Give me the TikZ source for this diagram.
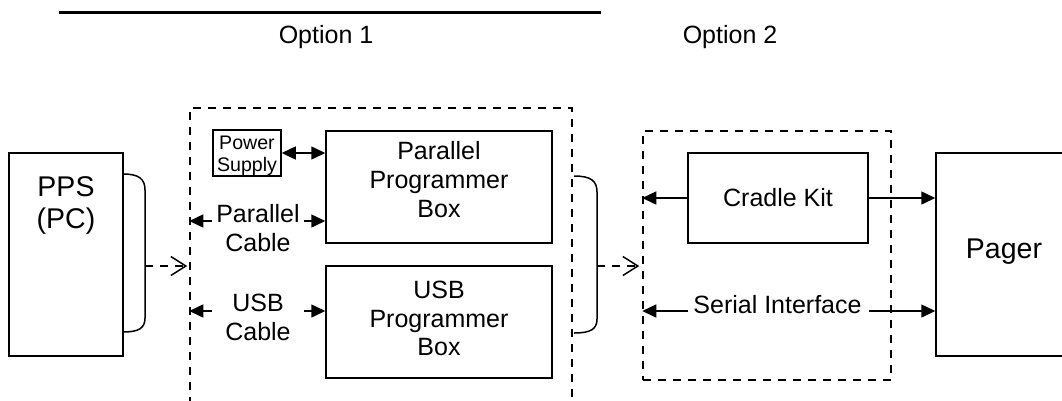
\documentclass[tikz,border=0pt]{standalone}
\usepackage{fontspec}
\setmainfont{Liberation Sans}
\usetikzlibrary{arrows.meta}
\begin{document}
\begin{tikzpicture}[x=1pt,y=-1pt,
  box/.style={draw,line width=1.5pt,rectangle,inner sep=0pt},
  dbox/.style={draw,line width=1.5pt,rectangle,inner sep=0pt,dash pattern=on 8pt off 7pt},
  txt/.style={inner sep=0pt,anchor=north,align=center,font=\fontsize{25}{29}\selectfont},
  bigtxt/.style={inner sep=0pt,anchor=north,align=center,font=\fontsize{28.5}{32}\selectfont},
  smalltxt/.style={inner sep=0pt,anchor=north,align=center,font=\fontsize{19.6}{22}\selectfont},
  arr/.style={line width=1.5pt,-{Triangle[length=14pt,width=13pt]}},
  darr/.style={line width=1.5pt,{Triangle[length=14pt,width=13pt]}-{Triangle[length=14pt,width=13pt]}},
  oarr/.style={line width=1.5pt,dash pattern=on 8pt off 7pt,-{Straight Barb[length=15pt,width=19pt,line width=1.5pt]}},
  brace/.style={line width=1.5pt}]
\useasboundingbox (0,0) rectangle (1062,400);
\clip (0,0) rectangle (1062,400);

% header
\coordinate (l1) at (59,12.5);
\coordinate (l2) at (601,12.5);
\draw[line width=3pt] (l1) -- (l2);
\node[txt] (o1) at (326,25.5) {Option 1};
\node[txt] (o2) at (730,25.5) {Option 2};

% PPS
\node[box,minimum width=114pt,minimum height=203pt] (pps) at (66,254.5) {};
\node[bigtxt] (ppst) at (66,176) {PPS\\(PC)};

% option 1 frame
\node[dbox,minimum width=382pt,minimum height=312pt] (opt1) at (381,264) {};
\node[box,minimum width=68pt,minimum height=46pt] (ps) at (247,153) {};
\node[smalltxt] (pst) at (247,136) {Power\\Supply};
\node[box,minimum width=226pt,minimum height=112pt] (ppb) at (439,187) {};
\node[txt] (ppbt) at (439,141) {Parallel\\Programmer\\Box};
\node[box,minimum width=226pt,minimum height=112pt] (usb) at (439,322) {};
\node[txt,font=\fontsize{25}{28.5}\selectfont] (usbt) at (439,281) {USB\\Programmer\\Box};
\node[txt] (pct) at (258,204) {Parallel\\Cable};
\node[txt] (uct) at (258,294) {USB\\Cable};

\draw[darr] (ps.east) -- (ps.east -| ppb.west);
\coordinate (pc1) at (212,221);
\coordinate (pc2) at (304,221);
\coordinate (uc1) at (212,311);
\coordinate (uc2) at (304,311);
\draw[arr] (pc1) -- (pc1 -| opt1.west);
\draw[arr] (pc2) -- (pc2 -| ppb.west);
\draw[arr] (uc1) -- (uc1 -| opt1.west);
\draw[arr] (uc2) -- (uc2 -| usb.west);

% braces
\draw[brace] (123,174) .. controls (139,174) and (145,179) .. (145,190) -- (145,318) .. controls (145,328) and (139,332) .. (123,332);
\coordinate (b1) at (145,266);
\draw[oarr,shorten >=2pt] (b1) -- (b1 -| opt1.west);
\draw[brace] (574,176) .. controls (591,176) and (597,181) .. (597,192) -- (597,319) .. controls (597,329) and (591,333) .. (574,333);
\coordinate (b2) at (597,266);

% option 2 frame
\node[dbox,minimum width=248pt,minimum height=249pt] (opt2) at (767,255.5) {};
\draw[oarr,shorten >=3pt] (b2) -- (b2 -| opt2.west);
\node[box,minimum width=180pt,minimum height=90pt] (ck) at (778,198) {};
\node[txt] (ckt) at (778,188) {Cradle Kit};
\node[txt] (sit) at (777.5,295) {Serial Interface};

% pager
\node[box,minimum width=140pt,minimum height=203pt] (pager) at (1006,254.5) {};
\node[bigtxt] (pagert) at (1004,238.6) {Pager};

\draw[arr] (ck.west) -- (ck.west -| opt2.west);
\draw[arr] (ck.east) -- (ck.east -| pager.west);
\coordinate (si1) at (688,311);
\coordinate (si2) at (869,311);
\draw[arr] (si1) -- (si1 -| opt2.west);
\draw[arr] (si2) -- (si2 -| pager.west);
\end{tikzpicture}
\end{document}
